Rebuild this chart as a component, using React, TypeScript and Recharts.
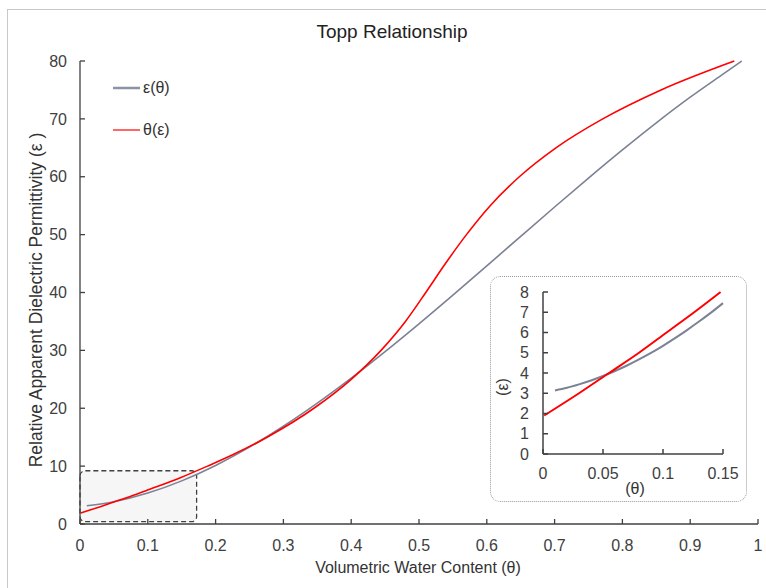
import React from 'react';
import { LineChart, Line, XAxis, YAxis, ReferenceArea, Legend } from 'recharts';

const FONT = "'Liberation Sans', Arial, sans-serif";
const GRAY = '#7b8294';
const RED = '#ff0000';
const AXIS = '#404040';

const xTicks = [0, 0.1, 0.2, 0.3, 0.4, 0.5, 0.6, 0.7, 0.8, 0.9, 1];
const yTicks = [0, 10, 20, 30, 40, 50, 60, 70, 80];
const insetXTicks = [0, 0.05, 0.1, 0.15];
const insetYTicks = [0, 1, 2, 3, 4, 5, 6, 7, 8];

// ε(θ) series: volumetric water content -> permittivity
const epsThetaX = [0.01, 0.05, 0.1, 0.15, 0.2, 0.25, 0.3, 0.35, 0.4, 0.45, 0.5, 0.55, 0.6, 0.65, 0.7, 0.75, 0.8, 0.85, 0.9, 0.95, 0.976];
const epsThetaY = [3.14, 3.85, 5.34, 7.45, 10.12, 13.28, 16.89, 20.88, 25.2, 29.79, 34.59, 39.55, 44.6, 49.7, 54.77, 59.77, 64.64, 69.32, 73.75, 77.87, 80];

// θ(ε) series: permittivity -> volumetric water content
const thetaEpsX = [0.001, 0.03, 0.055, 0.08, 0.103, 0.148, 0.188, 0.226, 0.276, 0.345, 0.4, 0.444, 0.48, 0.51, 0.539, 0.57, 0.605, 0.648, 0.702, 0.771, 0.857, 0.965];
const thetaEpsY = [1.9, 3, 4, 5, 6, 8, 10, 12, 15, 20, 25, 30, 35, 40, 45, 50, 55, 60, 65, 70, 75, 80];

// inset (zoomed 0 – 0.15)
const insetEpsThetaX = [0.01, 0.02, 0.03, 0.04, 0.05, 0.06, 0.07, 0.08, 0.09, 0.1, 0.11, 0.12, 0.13, 0.14, 0.15];
const insetEpsThetaY = [3.14, 3.27, 3.44, 3.63, 3.85, 4.1, 4.37, 4.67, 4.99, 5.34, 5.72, 6.12, 6.54, 6.98, 7.45];
const insetThetaEpsX = [0.001, 0.03, 0.055, 0.08, 0.103, 0.126, 0.148];
const insetThetaEpsY = [1.9, 3, 4, 5, 6, 7, 8];

const legendItems = [
  { label: 'ε(θ)', color: '#8a92a5', width: 2.5 },
  { label: 'θ(ε)', color: RED, width: 1.2 },
];

const zip = (xs: number[], ys: number[]) => xs.map((x, i) => ({ x, y: ys[i] }));

const mainEps = zip(epsThetaX, epsThetaY);
const mainTheta = zip(thetaEpsX, thetaEpsY);
const insetEps = zip(insetEpsThetaX, insetEpsThetaY);
const insetTheta = zip(insetThetaEpsX, insetThetaEpsY);

const tickStyle = { fill: AXIS, fontSize: 16, fontFamily: FONT };

const LegendContent = () => (
  <div style={{ fontFamily: FONT, fontSize: 16, color: '#333' }}>
    {legendItems.map((it) => (
      <div key={it.label} style={{ display: 'flex', alignItems: 'center', height: 20, marginBottom: 22 }}>
        <svg width={30} height={20} style={{ display: 'block' }}>
          <line x1={0} y1={10} x2={27} y2={10} stroke={it.color} strokeWidth={it.width} />
        </svg>
        <span>{it.label}</span>
      </div>
    ))}
  </div>
);

export default function App() {
  return (
    <div style={{ position: 'absolute', left: 0, top: 0, width: 766, height: 588, overflow: 'hidden', background: '#fff', fontFamily: FONT }}>
      <div style={{ position: 'absolute', left: 7, top: 9, width: 900, height: 800, borderTop: '1px solid #c8c8c8', borderLeft: '1px solid #c8c8c8' }} />
      <div style={{ position: 'absolute', left: 0, top: 20, width: 784, textAlign: 'center', fontSize: 19, lineHeight: '24px', color: '#222' }}>
        Topp Relationship
      </div>
      <div style={{ position: 'absolute', left: 0, top: 0 }}>
        <LineChart width={766} height={588} margin={{ top: 61, right: 8, bottom: 34, left: 0 }}>
          <XAxis
            type="number"
            dataKey="x"
            domain={[0, 1]}
            ticks={xTicks}
            interval={0}
            height={30}
            tickSize={-5}
            tickMargin={21}
            tick={tickStyle}
            stroke={AXIS}
            strokeWidth={1.3}
            allowDuplicatedCategory={false}
            label={{
              value: 'Volumetric Water Content (θ)',
              content: () => (
                <text x={418} y={567} textAnchor="middle" dominantBaseline="central" fontSize={16} fontFamily={FONT} fill="#333">
                  Volumetric Water Content (θ)
                </text>
              ),
            }}
          />
          <YAxis
            type="number"
            dataKey="y"
            domain={[0, 80]}
            ticks={yTicks}
            interval={0}
            width={80}
            tickSize={-5}
            tickMargin={18}
            tick={tickStyle}
            stroke={AXIS}
            strokeWidth={1.3}
            label={{
              value: 'Relative Apparent Dielectric Permittivity (ε )',
              content: () => (
                <text x={36} y={300} transform="rotate(-90 36 300)" textAnchor="middle" dominantBaseline="central" fontSize={17.5} fontFamily={FONT} fill="#333">
                  Relative Apparent Dielectric Permittivity (ε )
                </text>
              ),
            }}
          />
          <ReferenceArea
            x1={0}
            x2={0.172}
            y1={0.4}
            y2={9.2}
            fill="#f6f6f6"
            fillOpacity={1}
            stroke="#404040"
            strokeWidth={1.3}
            strokeDasharray="5 3"
            radius={5}
            ifOverflow="visible"
          />
          <Legend
            layout="vertical"
            align="center"
            verticalAlign="middle"
            content={LegendContent}
            wrapperStyle={{ position: 'absolute', left: 113, top: 78, width: 'auto', height: 'auto' }}
          />
          <Line data={mainEps} dataKey="y" type="monotone" stroke={GRAY} strokeWidth={1.6} dot={false} isAnimationActive={false} name="ε(θ)" />
          <Line data={mainTheta} dataKey="y" type="monotone" stroke={RED} strokeWidth={1.6} dot={false} isAnimationActive={false} name="θ(ε)" />
        </LineChart>
      </div>
      <div
        style={{
          position: 'absolute',
          left: 490,
          top: 276,
          width: 257,
          height: 226,
          border: '1px dotted #9a9a9a',
          borderRadius: 10,
          background: '#fff',
          boxSizing: 'border-box',
        }}
      />
      <div style={{ position: 'absolute', left: 490, top: 276 }}>
        <LineChart width={257} height={226} margin={{ top: 16, right: 24, bottom: 18, left: 0 }}>
          <XAxis
            type="number"
            dataKey="x"
            domain={[0, 0.15]}
            ticks={insetXTicks}
            interval={0}
            height={30}
            tickSize={-5}
            tickMargin={19}
            tick={tickStyle}
            stroke={AXIS}
            strokeWidth={1.5}
            allowDuplicatedCategory={false}
            label={{
              value: '(θ)',
              content: () => (
                <text x={145} y={212} textAnchor="middle" dominantBaseline="central" fontSize={16} fontFamily={FONT} fill="#333">
                  (θ)
                </text>
              ),
            }}
          />
          <YAxis
            type="number"
            dataKey="y"
            domain={[0, 8]}
            ticks={insetYTicks}
            interval={0}
            width={53}
            tickSize={-5}
            tickMargin={19}
            tick={tickStyle}
            stroke={AXIS}
            strokeWidth={1.5}
            label={{
              value: '(ε)',
              content: () => (
                <text x={12} y={111} transform="rotate(-90 12 111)" textAnchor="middle" dominantBaseline="central" fontSize={16} fontFamily={FONT} fill="#333">
                  (ε)
                </text>
              ),
            }}
          />
          <Line data={insetEps} dataKey="y" type="monotone" stroke={GRAY} strokeWidth={2} dot={false} isAnimationActive={false} />
          <Line data={insetTheta} dataKey="y" type="monotone" stroke={RED} strokeWidth={2} dot={false} isAnimationActive={false} />
        </LineChart>
      </div>
    </div>
  );
}
